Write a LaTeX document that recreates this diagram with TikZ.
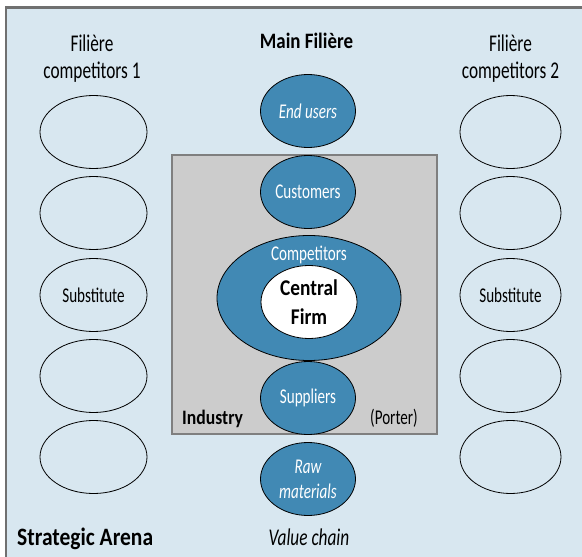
\documentclass[tikz,border=0pt]{standalone}
\usepackage{fontspec}
\setmainfont{Carlito}[FakeStretch=0.72, BoldFeatures={FakeStretch=0.86}]
\usetikzlibrary{shapes.geometric}

\definecolor{arenabg}{HTML}{D8E7F0}
\definecolor{arenaline}{HTML}{707070}
\definecolor{industrybg}{HTML}{CCCCCC}
\definecolor{industryline}{HTML}{7F7F7F}
\definecolor{firmblue}{HTML}{4189B4}

\tikzset{
  headtext/.style={font=\fontsize{24}{27}\selectfont, align=center, inner sep=0},
  labtext/.style={font=\fontsize{21}{25}\selectfont, align=center, inner sep=0},
  blueball/.style={ellipse, draw=black, line width=0.8pt, fill=firmblue, text=white,
    minimum width=95, minimum height=73, inner sep=0, labtext},
  sideball/.style={ellipse, draw=black, line width=0.8pt,
    minimum width=107, minimum height=73, inner sep=0, labtext},
}

\begin{document}
\begin{tikzpicture}[x=1pt, y=-1pt]
\useasboundingbox (0, 0) rectangle (582, 557);

% strategic arena
\draw [arenaline, fill=arenabg, line width=2.5pt] (6, 7.5) rectangle (600, 580);

% industry box
\draw [industryline, fill=industrybg, line width=1.2pt] (172, 155) rectangle (437, 434);

% titles
\node [headtext] (comp1) at (92, 59) {Filière\\competitors 1};
\node [headtext, font=\fontsize{22}{27}\selectfont\bfseries, anchor=base] (main) at (306.5, 48) {Main Filière};
\node [headtext] (comp2) at (510.5, 59) {Filière\\competitors 2};

% main filiere
\node [blueball, font=\fontsize{21}{25}\selectfont\itshape] (users) at (308, 111) {End users};
\node [blueball] (cust) at (308, 192) {Customers};
\node [blueball, minimum width=184, minimum height=125] (rivals) at (309, 298) {};
\node [labtext, text=white, anchor=base] (rivalstext) at (309, 260) {Competitors};
\node [blueball, fill=white, text=black, minimum width=96,
  font=\fontsize{22.5}{29}\selectfont\bfseries] (firm) at (309, 302) {Central\\Firm};
\node [blueball] (supp) at (308, 398) {Suppliers};
\node [blueball, font=\fontsize{21}{25}\selectfont\itshape] (raw) at (308, 479) {Raw\\materials};

% substitutes
\node [sideball] (l1) at (93.5, 132) {};
\node [sideball] (l2) at (93.5, 213) {};
\node [sideball] (l3) at (93.5, 295) {Substitute};
\node [sideball] (l4) at (93.5, 376) {};
\node [sideball] (l5) at (93.5, 457) {};

\node [sideball, minimum width=101] (r1) at (510.5, 132) {};
\node [sideball, minimum width=101] (r2) at (510.5, 213) {};
\node [sideball, minimum width=101] (r3) at (510.5, 295) {Substitute};
\node [sideball, minimum width=101] (r4) at (510.5, 376) {};
\node [sideball, minimum width=101] (r5) at (510.5, 457) {};

% captions
\node [labtext, font=\fontsize{20.5}{25}\selectfont\bfseries, anchor=base west] (industry) at (182, 424) {Industry};
\node [labtext, anchor=base east] (porter) at (418, 424) {(Porter)};
\node [headtext, font=\fontsize{25}{27}\selectfont\bfseries, anchor=base west] (arena) at (17, 545) {Strategic Arena};
\node [labtext, font=\fontsize{24}{25}\selectfont\itshape, anchor=base] (chain) at (309, 545) {Value chain};
\end{tikzpicture}
\end{document}
